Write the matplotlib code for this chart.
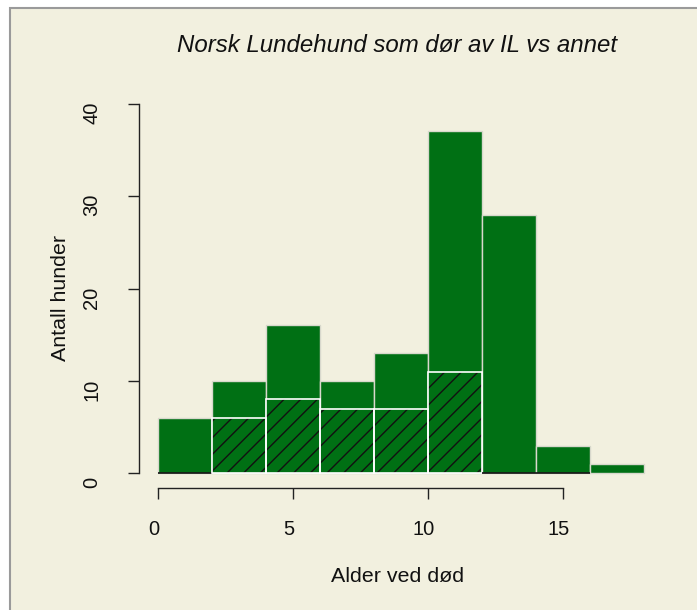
import matplotlib
matplotlib.use("Agg")
import matplotlib.pyplot as plt
from matplotlib.patches import Rectangle
from matplotlib.transforms import ScaledTranslation
import numpy as np

# ---- data ----
bin_edges = [0, 2, 4, 6, 8, 10, 12, 14, 16, 18]
total_counts = [6, 10, 16, 10, 13, 37, 28, 3, 1]
il_edges = [0, 2, 4, 6, 8, 10, 12, 14, 16]
il_counts = [0, 6, 8, 7, 7, 11, 0, 0]
x_ticks = [0, 5, 10, 15]
y_ticks = [0, 10, 20, 30, 40]
title = "Norsk Lundehund som dør av IL vs annet"
xlabel = "Alder ved død"
ylabel = "Antall hunder"

BG = "#F2F0DF"
GREEN = "#007014"

plt.rcParams['font.family'] = ['Liberation Sans', 'DejaVu Sans']
plt.rcParams['hatch.linewidth'] = 1.0

W, H = 697, 610
fig = plt.figure(figsize=(W / 100, H / 100), dpi=100, facecolor='white')

# background panel with grey border on top/left
fig.patches.append(Rectangle((10 / W, -0.1), 1.2, (H - 8) / H + 0.1,
                             transform=fig.transFigure, facecolor=BG,
                             edgecolor='#9a9a9a', linewidth=1.5, zorder=-5))

left, right = 138.6 / W, 663 / W
bottom, top = (H - 488) / H, (H - 89) / H
ax = fig.add_axes([left, bottom, right - left, top - bottom])
ax.set_zorder(2)
ax.set_facecolor('none')

# total histogram
edges = np.array(bin_edges)
ax.bar(edges[:-1], total_counts, width=np.diff(edges), align='edge',
       color=GREEN, edgecolor='#d8d8cc', linewidth=1.0, zorder=2)

# IL histogram (hatched): fill + black hatch, then outlines
ie = np.array(il_edges)
ax.bar(ie[:-1], il_counts, width=np.diff(ie), align='edge',
       color=GREEN, edgecolor='#111111', linewidth=0, hatch='//', zorder=3)
ec = ['#111111' if c == 0 else 'white' for c in il_counts]
ax.bar(ie[:-1], il_counts, width=np.diff(ie), align='edge',
       color='none', edgecolor=ec, linewidth=1.2, zorder=4)

ax.set_xlim(-0.72, 18.72)
ax.set_ylim(-1.6, 41.6)

for s in ['top', 'right']:
    ax.spines[s].set_visible(False)
ax.spines['left'].set_bounds(0, 40)
ax.spines['bottom'].set_bounds(0, 15)
for s in ['left', 'bottom']:
    ax.spines[s].set_linewidth(1.0)
    ax.spines[s].set_color('#222222')

ax.set_xticks(x_ticks)
ax.set_yticks(y_ticks)
ax.tick_params(axis='both', length=7.7, width=1.0, color='#222222',
               labelsize=14.5, labelcolor='#111111')
ax.tick_params(axis='x', pad=15)
ax.tick_params(axis='y', pad=16)
for lab in ax.get_yticklabels():
    lab.set_rotation(90)
    lab.set_va('center')
    lab.set_ha('center')
    lab.set_transform(lab.get_transform() + ScaledTranslation(-14 / 100, -9 / 100, fig.dpi_scale_trans))
for lab in ax.get_xticklabels():
    lab.set_transform(lab.get_transform() + ScaledTranslation(-4 / 100, 0, fig.dpi_scale_trans))

fig.text(397 / W, 1 - 45 / H, title, ha='center', va='center',
         fontsize=17.3, style='italic', color='#111111')
fig.text(398 / W, 1 - 577 / H, xlabel, ha='center', va='center',
         fontsize=15.4, color='#111111')
fig.text(60 / W, 1 - 298 / H, ylabel, ha='center', va='center',
         rotation=90, fontsize=15.4, color='#111111')

fig.savefig('out.png', dpi=100, facecolor='white')
